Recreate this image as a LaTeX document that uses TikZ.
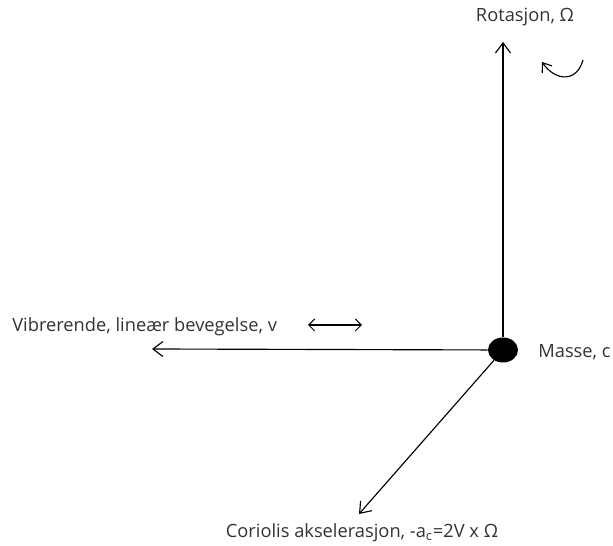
\documentclass[tikz,border=0pt]{standalone}
\usepackage{fontspec}
\setmainfont{Open Sans}
\usetikzlibrary{
	arrows.meta,
	positioning,
	shapes.geometric
}

\begin{document}
\begin{tikzpicture}[x=0.02cm, y=-0.02cm,
  axis/.style={line width=0.65pt, -{Straight Barb[length=2mm, width=3mm]}},
  lbl/.style={font=\fontsize{10.4}{12}\selectfont, text=black!80, inner sep=0pt}]

\useasboundingbox (0,0) rectangle (613,546);

% Mass at the origin
\node[ellipse, fill=black, inner sep=0pt, minimum width=0.6cm, minimum height=0.5cm] (mass) at (503,350) {};
\node[lbl, anchor=west] (masslabel) at (538,352) {Masse, c};

% Axis end points
\coordinate (rottip) at (503,42);
\coordinate (vibtip) at (152,349);
\coordinate (cortip) at (359,514);

% Axes
\draw[axis] (mass) -- (rottip);
\draw[axis] (mass) -- (vibtip);
\draw[axis] (mass) -- (cortip);

% Rotation
\node[lbl] (rotlabel) at (525,17) {Rotasjon, Ω};
\coordinate (spinA) at (583,60);
\coordinate (spinB) at (542,62);
\draw[line width=0.65pt, -{Straight Barb[length=1.6mm, width=2.4mm]}] (spinA) .. controls (577,82) and (556,82) .. (spinB);

% Vibration
\node[lbl, anchor=west] (viblabel) at (12,327) {Vibrerende, lineær bevegelse, v};
\coordinate (vibL) at (308,325);
\coordinate (vibR) at (362,325);
\draw[line width=0.6pt, {Straight Barb[length=1.2mm, width=2.4mm]}-{Straight Barb[length=1.2mm, width=2.4mm]}] (vibL) -- (vibR);

% Coriolis
\node[lbl] (corlabel) at (362,533) {Coriolis akselerasjon, -a\textsubscript{c}=2V x Ω};

\end{tikzpicture}
\end{document}
